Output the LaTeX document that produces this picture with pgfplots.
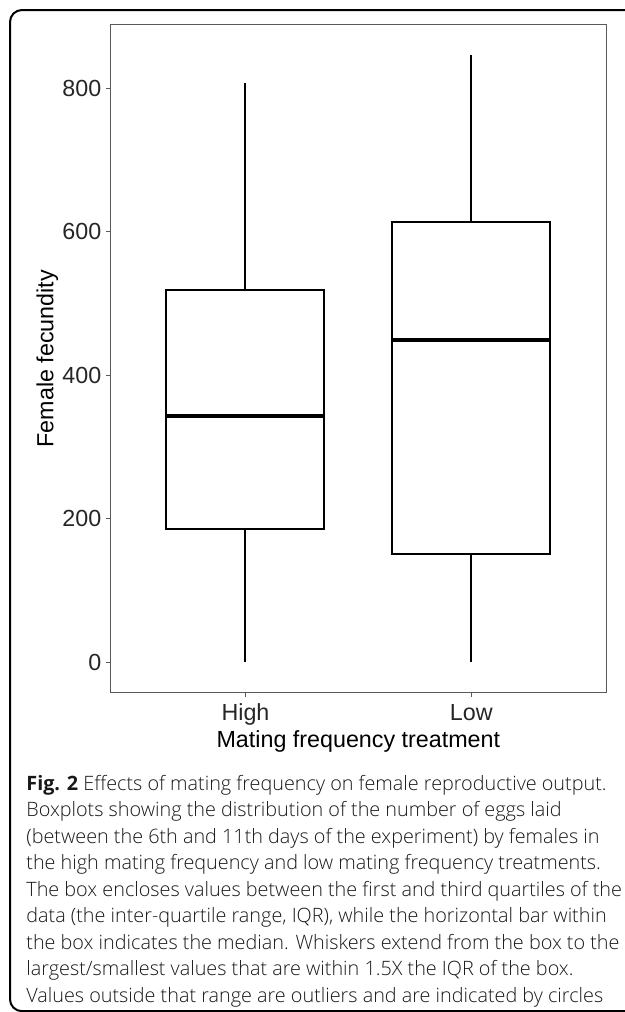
\documentclass[border=0pt]{standalone}
\usepackage{fontspec}
\setmainfont{Liberation Sans}
\IfFontExistsTF{Open Sans Light}
  {\newfontfamily\capfont{Open Sans Light}[BoldFont={Open Sans Bold}]}
  {\newfontfamily\capfont{Open Sans}}
\usepackage{pgfplots}
\pgfplotsset{compat=1.18}

\newcommand\chartfont{\fontsize{11.65pt}{13pt}\selectfont}
\newcommand\capsize{\fontsize{9.9pt}{13.25pt}\selectfont}

% five-number summaries: position, low whisker, Q1, median, Q3, high whisker
% High: 1, 0, 185.4, 343.3, 518.3, 807.5
% Low : 2, 0, 150.8, 449.0, 613.4, 846.0

\begin{document}
\begin{tikzpicture}[
  boxline/.style={black, line width=1pt, line join=miter, mark=none, solid},
  medianline/.style={black, line width=2pt, mark=none, solid},
]
\useasboundingbox (0,0) rectangle (312.5pt,-506pt);
% rounded frame around the figure
\draw[line width=1pt, rounded corners=6pt] (5pt,-5pt) rectangle (330pt,-505.6pt);
\begin{axis}[
  at={(55pt,-346.25pt)}, anchor=south west,
  width=248.35pt, height=333.75pt, scale only axis,
  xmin=0.4, xmax=2.6, ymin=-42.3, ymax=888.3,
  xtick={1,2}, xticklabels={High,Low},
  ytick={0,200,400,600,800},
  axis line style={draw=black!65, line width=0.5pt},
  every tick/.style={draw=black!65, line width=0.5pt},
  tick align=outside, tick pos=left, major tick length=2pt,
  ticklabel style={font=\chartfont, text=black!85},
  /pgf/number format/assume math mode=true,
  yticklabel style={inner sep=0pt, xshift=-2.15pt},
  xticklabel style={inner sep=0pt, anchor=base, yshift=-11.75pt},
  xlabel={Mating frequency treatment}, ylabel={Female fecundity},
  label style={font=\chartfont, text=black},
  xlabel style={at={(axis description cs:0.5,-0.0827)}, anchor=base, inner sep=0pt},
  ylabel style={at={(axis description cs:-0.1142,0.5)}, anchor=base, inner sep=0pt},
]
% High mating frequency: box, median, whiskers
\addplot[boxline] coordinates {(0.65,185.4) (1.35,185.4) (1.35,518.3) (0.65,518.3) (0.65,185.4) (1.35,185.4)};
\addplot[medianline] coordinates {(0.65,343.3) (1.35,343.3)};
\addplot[boxline] coordinates {(1,518.3) (1,807.5)};
\addplot[boxline] coordinates {(1,0) (1,185.4)};
% Low mating frequency: box, median, whiskers
\addplot[boxline] coordinates {(1.65,150.8) (2.35,150.8) (2.35,613.4) (1.65,613.4) (1.65,150.8) (2.35,150.8)};
\addplot[medianline] coordinates {(1.65,449.0) (2.35,449.0)};
\addplot[boxline] coordinates {(2,613.4) (2,846.0)};
\addplot[boxline] coordinates {(2,0) (2,150.8)};
\end{axis}
% figure caption
\begin{scope}[every node/.style={anchor=base west, inner sep=0pt, font=\capfont\capsize, text=black!90}]
\node at (13pt,-395pt) {\textbf{Fig. 2} Effects of mating frequency on female reproductive output.};
\node at (13pt,-408.25pt) {Boxplots showing the distribution of the number of eggs laid};
\node at (13pt,-421.5pt) {(between the 6th and 11th days of the experiment) by females in};
\node at (13pt,-434.75pt) {the high mating frequency and low mating frequency treatments.};
\node at (13pt,-448pt) {The box encloses values between the first and third quartiles of the};
\node at (13pt,-461.25pt) {data (the inter-quartile range, IQR), while the horizontal bar within};
\node at (13pt,-474.5pt) {the box indicates the median. Whiskers extend from the box to the};
\node at (13pt,-487.75pt) {largest/smallest values that are within 1.5X the IQR of the box.};
\node at (13pt,-501pt) {Values outside that range are outliers and are indicated by circles};
\end{scope}
\end{tikzpicture}
\end{document}
